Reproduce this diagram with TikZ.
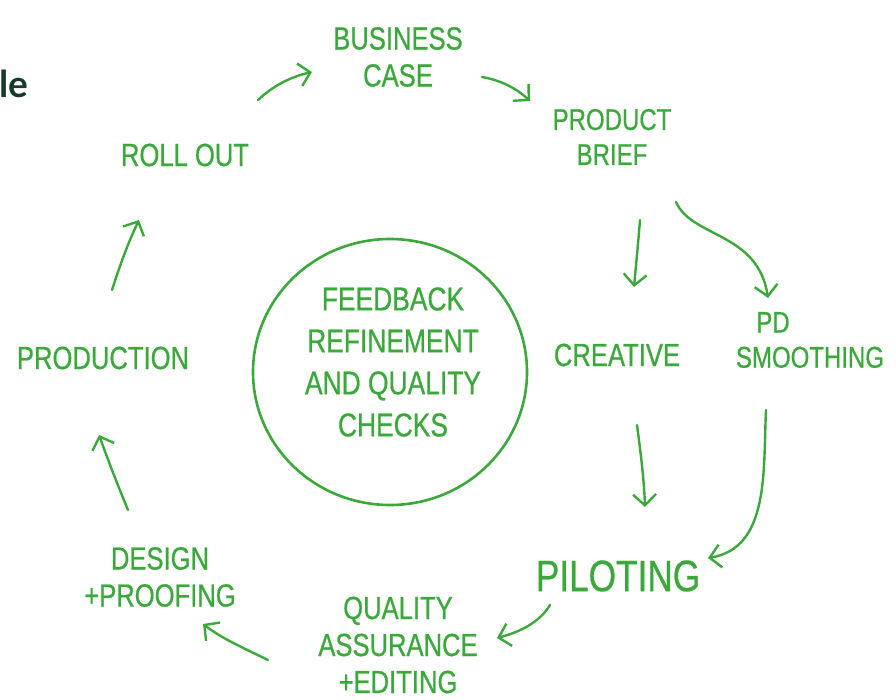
\documentclass[tikz,border=0pt]{standalone}
\usepackage{fontspec}
\usetikzlibrary{arrows.meta}
\newfontfamily\handfont[FakeStretch=0.8,FakeBold=0.6]{Liberation Sans}
\newfontfamily\titlefont{Lato}
\definecolor{pen}{RGB}{58,168,58}
\definecolor{titlegreen}{RGB}{24,58,44}
\begin{document}
\begin{tikzpicture}[x=1pt,y=-1pt,
  lbl/.style={text=pen, align=center, inner sep=0pt, font=\handfont\fontsize{32}{37}\selectfont},
  arr/.style={draw=pen, line width=2.4pt, line cap=round, line join=round,
              -{Straight Barb[length=11pt,width=23pt,line width=2.4pt]}}]
\useasboundingbox (0,0) rectangle (896,700);
% title fragment
\node[anchor=west, text=titlegreen, inner sep=0pt, font=\titlefont\bfseries\fontsize{37}{44}\selectfont] (title) at (-1,84) {le};
% labels
\node[lbl] (bc) at (398,57) {BUSINESS\\CASE};
\node[lbl, font=\handfont\fontsize{30}{35}\selectfont] (pb) at (612,137) {PRODUCT\\BRIEF};
\node[lbl] (ro) at (185,155) {ROLL OUT};
\node[lbl] (prodn) at (103,358) {PRODUCTION};
\node[lbl] (cr) at (617,355) {CREATIVE};
\node[lbl, font=\handfont\fontsize{30}{35}\selectfont] (pd) at (810,340) {PD\hspace*{74pt}\\SMOOTHING};
\node[lbl, font=\handfont\fontsize{44}{44}\selectfont] (pil) at (618,576) {PILOTING};
\node[lbl] (qa) at (398,645) {QUALITY\\ASSURANCE\\+EDITING};
\node[lbl] (dp) at (160,577) {DESIGN\\+PROOFING};
% centre circle
\node[lbl, font=\handfont\fontsize{33}{42}\selectfont] (fb) at (393,362) {FEEDBACK\\REFINEMENT\\AND QUALITY\\CHECKS};
\draw[pen, line width=2.6pt] (390,372) ellipse [x radius=137, y radius=133];
% connector end points
\coordinate (roS) at (258,100); \coordinate (bcE) at (312,72);
\coordinate (bcS) at (482,77);  \coordinate (pbE) at (530,101);
\coordinate (pbS1) at (640,220); \coordinate (crE) at (634,287);
\coordinate (pbS2) at (676,202); \coordinate (pdE) at (768,298);
\coordinate (crS) at (637,425); \coordinate (pilE1) at (645,507);
\coordinate (pdS) at (766,410); \coordinate (pilE2) at (708,558);
\coordinate (pilS) at (550,605); \coordinate (qaE) at (497,638);
\coordinate (qaS) at (268,660); \coordinate (dpE) at (203,624);
\coordinate (dpS) at (128,510); \coordinate (prE) at (99,435);
\coordinate (prS) at (112,290); \coordinate (roE) at (139,220);
% connectors
\draw[arr] (roS) .. controls (273,86) and (290,77) .. (bcE);
\draw[arr] (bcS) .. controls (500,80) and (516,88) .. (pbE);
\draw[arr] (pbS1) .. controls (638,245) and (636,265) .. (crE);
\draw[arr] (pbS2) .. controls (692,238) and (758,232) .. (pdE);
\draw[arr] (crS) .. controls (641,455) and (644,480) .. (pilE1);
\draw[arr] (pdS) .. controls (763,470) and (770,548) .. (pilE2);
\draw[arr] (pilS) .. controls (540,622) and (520,632) .. (qaE);
\draw[arr] (qaS) .. controls (248,650) and (224,640) .. (dpE);
\draw[arr] (dpS) .. controls (118,486) and (108,460) .. (prE);
\draw[arr] (prS) .. controls (120,265) and (128,243) .. (roE);
\end{tikzpicture}
\end{document}
